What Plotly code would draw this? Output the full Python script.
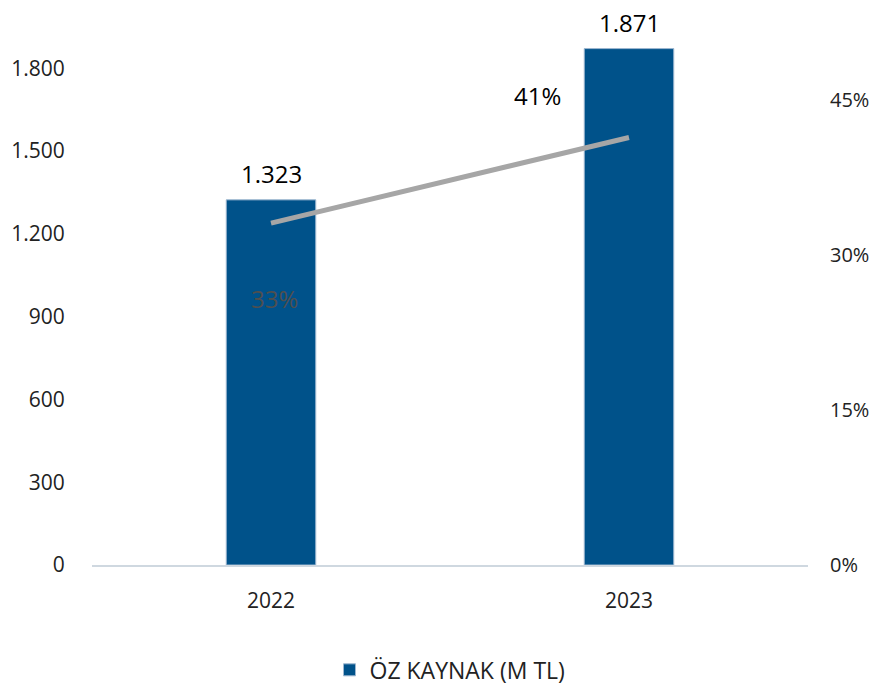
import plotly.graph_objects as go

years = ['2022', '2023']
oz_kaynak = [1323, 1871]
oran = [33.1, 41.4]
oran_labels = ['33%', '41%']

left_ticks = [0, 300, 600, 900, 1200, 1500, 1800]
right_ticks = [0, 15, 30, 45]

BAR_COLOR = '#00528A'
LINE_COLOR = '#A6A6A6'
FONT = 'Open Sans'


def fmt_tr(v):
    return f"{v:,}".replace(',', '.')


fig = go.Figure()

fig.add_trace(go.Bar(
    x=years, y=oz_kaynak, name='ÖZ KAYNAK (M TL)',
    marker=dict(color=BAR_COLOR, line=dict(color='#9DB7D0', width=1)),
    hoverinfo='skip'
))

fig.add_trace(go.Scatter(
    x=years, y=oran, yaxis='y2', mode='lines', showlegend=False,
    line=dict(color=LINE_COLOR, width=5), hoverinfo='skip'
))

# bar value labels (x given as category index, '2022' would be read as index 2022)
for i, v in enumerate(oz_kaynak):
    fig.add_annotation(
        x=i, y=v, xref='x', yref='y', text=fmt_tr(v), showarrow=False,
        yshift=26, font=dict(family=FONT, size=24, color='#000000')
    )

# line value labels (placed by hand in the original)
label_shift = [(3, -75, '#4F4F4F'), (-92, 42, '#000000')]
for i, (v, txt, (dx, dy, col)) in enumerate(zip(oran, oran_labels, label_shift)):
    fig.add_annotation(
        x=i, y=v, xref='x', yref='y2', text=txt, showarrow=False,
        xshift=dx, yshift=dy, font=dict(family=FONT, size=24, color=col)
    )

fig.update_layout(
    width=879, height=688,
    margin=dict(l=84, r=79, t=5, b=125),
    plot_bgcolor='white', paper_bgcolor='white',
    font=dict(family=FONT, size=21, color='#222222'),
    bargap=0.75,
    xaxis=dict(
        type='category', automargin=False, range=[-0.5, len(years) - 0.5],
        showline=True, linecolor='#CFD8E0', linewidth=2,
        ticks='outside', ticklen=16, tickcolor='rgba(0,0,0,0)',
        showgrid=False
    ),
    yaxis=dict(
        automargin=False,
        range=[0, 2000], tickmode='array', tickvals=left_ticks,
        ticktext=[fmt_tr(t) for t in left_ticks], showgrid=False,
        zeroline=False, showline=False,
        ticks='outside', ticklen=22, tickcolor='rgba(0,0,0,0)'
    ),
    yaxis2=dict(
        automargin=False,
        range=[0, 53.45], overlaying='y', side='right', tickmode='array',
        tickvals=right_ticks, ticktext=[f'{t}%' for t in right_ticks],
        showgrid=False, zeroline=False, showline=False,
        ticks='outside', ticklen=17, tickcolor='rgba(0,0,0,0)',
        tickfont=dict(size=20)
    ),
    legend=dict(
        orientation='h', x=0.5, xanchor='center', y=-0.19, yanchor='middle',
        font=dict(size=23)
    ),
)

fig.write_html("out.html")
